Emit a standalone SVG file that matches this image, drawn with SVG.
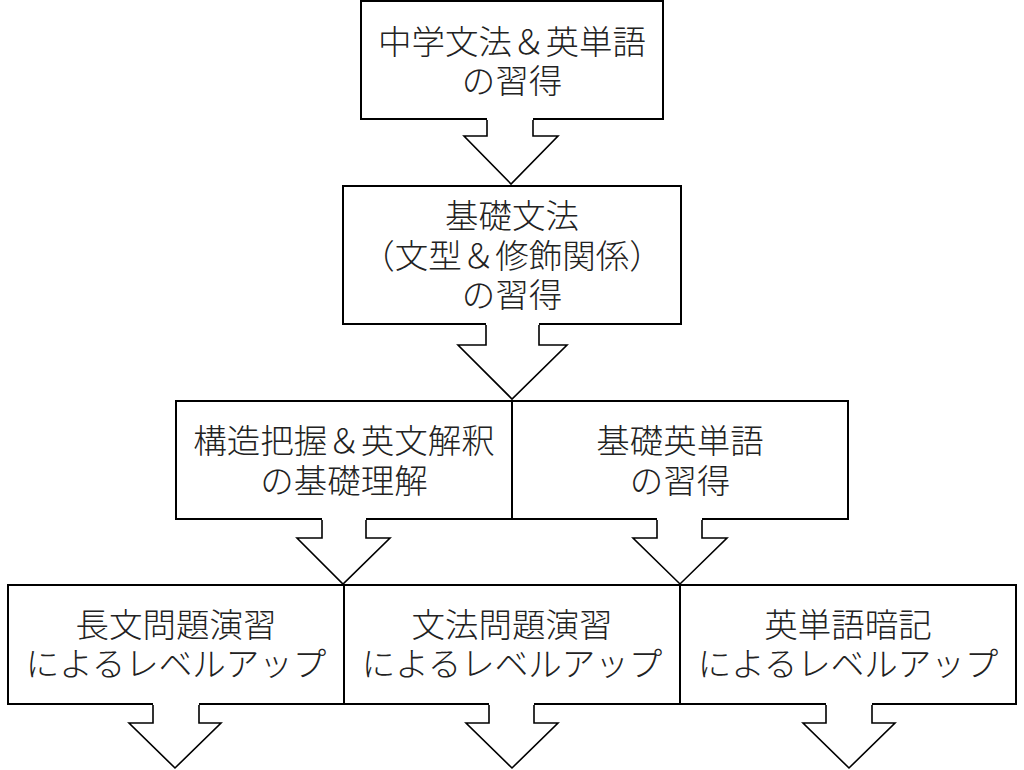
<svg xmlns="http://www.w3.org/2000/svg" width="1024" height="770" viewBox="0 0 1024 770">
<style>
.box{fill:#fff;stroke:#000;stroke-width:2}
.t{font-family:"Noto Sans CJK JP","Noto Sans CJK SC",sans-serif;font-weight:300;font-size:33.5px;fill:#222;text-anchor:middle}
.af{fill:#fff;stroke:none}
.as{fill:none;stroke:#000;stroke-width:1.6;stroke-linejoin:miter}
</style>
<rect width="1024" height="770" fill="#fff"/>
<g id="n1"><rect class="box" x="361" y="1" width="302" height="118"/>
<text class="t" x="512" y="54">中学文法＆英単語<tspan x="512" dy="39">の習得</tspan></text></g>
<g id="n2"><rect class="box" x="343" y="186" width="338" height="138"/>
<text class="t" x="512" y="228">基礎文法<tspan x="512" dy="40">（文型＆修飾関係）</tspan><tspan x="512" dy="39">の習得</tspan></text></g>
<g id="n3"><rect class="box" x="176" y="401" width="336" height="118"/>
<text class="t" x="344" y="453">構造把握＆英文解釈<tspan x="344" dy="40">の基礎理解</tspan></text></g>
<g id="n4"><rect class="box" x="512" y="401" width="336" height="118"/>
<text class="t" x="680" y="453">基礎英単語<tspan x="680" dy="40">の習得</tspan></text></g>
<g id="n5"><rect class="box" x="8" y="585" width="336" height="119"/>
<text class="t" x="176" y="637">長文問題演習<tspan x="176" dy="39">によるレベルアップ</tspan></text></g>
<g id="n6"><rect class="box" x="344" y="585" width="336" height="119"/>
<text class="t" x="512" y="637">文法問題演習<tspan x="512" dy="39">によるレベルアップ</tspan></text></g>
<g id="n7"><rect class="box" x="680" y="585" width="336" height="119"/>
<text class="t" x="848" y="637">英単語暗記<tspan x="848" dy="39">によるレベルアップ</tspan></text></g>
<g id="connectors">
<g><polygon class="af" points="487,118 487,136 464,136 511,184 558,136 533,136 533,118"/><polyline class="as" points="487,120 487,136 464,136 511,184 558,136 533,136 533,120"/></g>
<g><polygon class="af" points="486,323 486,345 458,345 512,399 567,345 539,345 539,323"/><polyline class="as" points="486,325 486,345 458,345 512,399 567,345 539,345 539,325"/></g>
<g><polygon class="af" points="322,518 322,538 297,538 343,584 390,538 366,538 366,518"/><polyline class="as" points="322,520 322,538 297,538 343,584 390,538 366,538 366,520"/></g>
<g><polygon class="af" points="657,518 657,538 633,538 680,584 727,538 702,538 702,518"/><polyline class="as" points="657,520 657,538 633,538 680,584 727,538 702,538 702,520"/></g>
<g><polygon class="af" points="153,703 153,723 129,723 175,768 221,723 199,723 199,703"/><polyline class="as" points="153,705 153,723 129,723 175,768 221,723 199,723 199,705"/></g>
<g><polygon class="af" points="489,703 489,723 466,723 512,768 558,723 534,723 534,703"/><polyline class="as" points="489,705 489,723 466,723 512,768 558,723 534,723 534,705"/></g>
<g><polygon class="af" points="826,703 826,723 803,723 849,768 895,723 872,723 872,703"/><polyline class="as" points="826,705 826,723 803,723 849,768 895,723 872,723 872,705"/></g>
</g>
</svg>
